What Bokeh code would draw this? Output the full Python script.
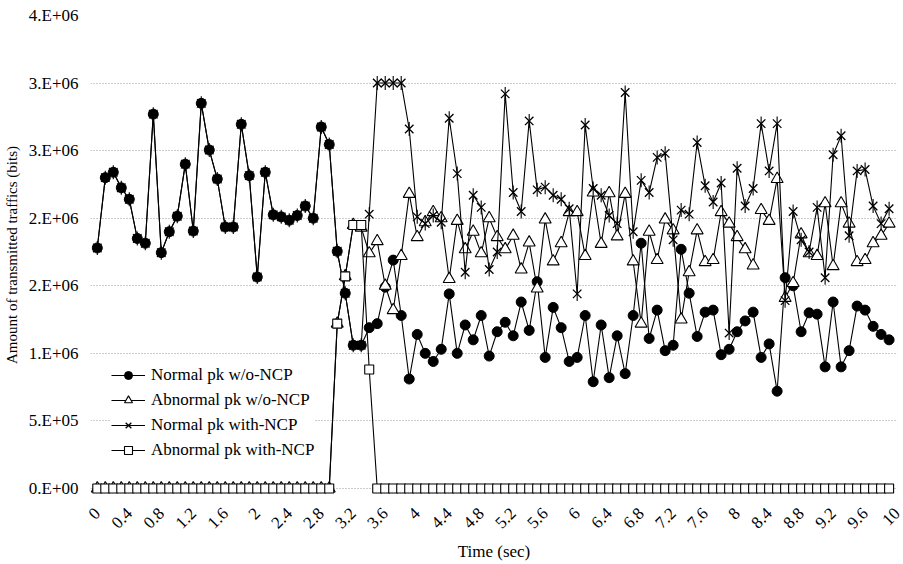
from math import pi
from bokeh.plotting import figure
from bokeh.models import (ColumnDataSource, FixedTicker, Legend, LegendItem, Range1d)
from bokeh.embed import file_html
from bokeh.resources import INLINE

# ---------------- data (values in millions of bits) ----------------
time_sec = [round(i * 0.1, 1) for i in range(100)]

normal_wo_ncp = [
    1.78, 2.30, 2.34, 2.225, 2.14, 1.85, 1.815, 2.77, 1.745, 1.90,
    2.015, 2.40, 1.905, 2.85, 2.505, 2.29, 1.935, 1.935, 2.695, 2.315,
    1.565, 2.34, 2.025, 2.01, 1.985, 2.02, 2.09, 2.00, 2.675, 2.545,
    1.755, 1.445, 1.06, 1.06, 1.19, 1.22, 1.49, 1.69, 1.28, 0.81,
    1.14, 1.00, 0.94, 1.03, 1.44, 1.00, 1.21, 1.10, 1.28, 0.98,
    1.16, 1.23, 1.13, 1.38, 1.17, 1.53, 0.97, 1.34, 1.19, 0.94,
    0.97, 1.28, 0.79, 1.21, 0.82, 1.13, 0.85, 1.28, 1.815, 1.11,
    1.32, 1.02, 1.06, 1.77, 1.445, 1.125, 1.305, 1.32, 0.99, 1.03,
    1.16, 1.24, 1.305, 0.97, 1.07, 0.72, 1.56, 1.50, 1.16, 1.30,
    1.29, 0.90, 1.38, 0.90, 1.02, 1.35, 1.32, 1.20, 1.14, 1.10,
]

abnormal_wo_ncp = [
    0, 0, 0, 0, 0, 0, 0, 0, 0, 0,
    0, 0, 0, 0, 0, 0, 0, 0, 0, 0,
    0, 0, 0, 0, 0, 0, 0, 0, 0, 0,
    1.22, 1.57, 1.95, 1.93, 1.74, 1.83, 1.50, 1.32, 1.72, 2.18,
    1.86, 1.97, 2.045, 2.00, 1.55, 1.98, 1.77, 1.90, 1.74, 2.00,
    1.86, 1.77, 1.87, 1.62, 1.82, 1.48, 1.99, 1.68, 1.815, 2.045,
    2.045, 1.72, 2.19, 1.81, 2.185, 1.865, 2.18, 1.68, 1.22, 1.90,
    1.69, 1.99, 1.91, 1.25, 1.60, 1.91, 1.675, 1.69, 2.045, 1.96,
    1.86, 1.77, 1.65, 2.06, 1.98, 2.29, 1.41, 1.52, 1.88, 1.74,
    1.72, 2.11, 1.645, 2.11, 1.96, 1.675, 1.69, 1.815, 1.87, 1.96,
]

normal_with_ncp = [
    1.78, 2.30, 2.34, 2.225, 2.14, 1.85, 1.815, 2.77, 1.745, 1.90,
    2.015, 2.40, 1.905, 2.85, 2.505, 2.29, 1.935, 1.935, 2.695, 2.315,
    1.565, 2.34, 2.025, 2.01, 1.985, 2.02, 2.09, 2.00, 2.675, 2.545,
    1.755, 1.445, 1.06, 1.06, 2.03, 3.00, 3.00, 3.00, 3.00, 2.66,
    2.01, 1.96, 2.02, 1.97, 2.74, 2.33, 1.60, 2.17, 2.08, 1.62,
    1.75, 2.92, 2.19, 2.05, 2.72, 2.21, 2.23, 2.17, 2.14, 2.07,
    1.44, 2.69, 2.22, 2.17, 2.02, 1.96, 2.93, 1.90, 2.28, 2.19,
    2.45, 2.48, 1.84, 2.06, 2.03, 2.56, 2.24, 2.12, 2.26, 1.15,
    2.37, 2.09, 2.22, 2.70, 2.35, 2.70, 1.39, 2.05, 1.84, 1.75,
    2.08, 1.56, 2.47, 2.61, 1.87, 2.35, 2.36, 2.09, 1.96, 2.07,
]

abnormal_with_ncp = [
    0, 0, 0, 0, 0, 0, 0, 0, 0, 0,
    0, 0, 0, 0, 0, 0, 0, 0, 0, 0,
    0, 0, 0, 0, 0, 0, 0, 0, 0, 0,
    1.22, 1.57, 1.95, 1.95, 0.88, 0, 0, 0, 0, 0,
    0, 0, 0, 0, 0, 0, 0, 0, 0, 0,
    0, 0, 0, 0, 0, 0, 0, 0, 0, 0,
    0, 0, 0, 0, 0, 0, 0, 0, 0, 0,
    0, 0, 0, 0, 0, 0, 0, 0, 0, 0,
    0, 0, 0, 0, 0, 0, 0, 0, 0, 0,
    0, 0, 0, 0, 0, 0, 0, 0, 0, 0,
]

series_names = ["Normal pk w/o-NCP", "Abnormal pk w/o-NCP",
                "Normal pk with-NCP", "Abnormal pk with-NCP"]

x_tick_values = [0, 0.4, 0.8, 1.2, 1.6, 2, 2.4, 2.8, 3.2, 3.6, 4, 4.4, 4.8,
                 5.2, 5.6, 6, 6.4, 6.8, 7.2, 7.6, 8, 8.4, 8.8, 9.2, 9.6, 10]
x_tick_labels = ["0", "0.4", "0.8", "1.2", "1.6", "2", "2.4", "2.8", "3.2",
                 "3.6", "4", "4.4", "4.8", "5.2", "5.6", "6", "6.4", "6.8",
                 "7.2", "7.6", "8", "8.4", "8.8", "9.2", "9.6", "10"]
y_tick_values = [0, 500000, 1000000, 1500000, 2000000, 2500000, 3000000, 3500000]
y_tick_labels = ["0.E+00", "5.E+05", "1.E+06", "2.E+06", "2.E+06",
                 "3.E+06", "3.E+06", "4.E+06"]

FONT = "Liberation Serif"

# ---------------- figure ----------------
p = figure(width=903, height=564, output_backend="svg", toolbar_location=None,
           x_range=Range1d(-0.085, 10.005), y_range=Range1d(-44400, 3500000),
           min_border_left=90, min_border_right=6, min_border_top=15,
           min_border_bottom=70)
p.outline_line_color = None
p.background_fill_color = "white"
p.border_fill_color = "white"

src = ColumnDataSource(dict(
    x=time_sec,
    nwo=[v * 1e6 for v in normal_wo_ncp],
    awo=[v * 1e6 for v in abnormal_wo_ncp],
    nw=[v * 1e6 for v in normal_with_ncp],
    aw=[v * 1e6 for v in abnormal_with_ncp],
))

items = []
l1 = p.line("x", "nwo", source=src, line_color="black", line_width=1.1)
m1 = p.scatter("x", "nwo", source=src, marker="circle", size=10,
               fill_color="black", line_color="black")
items.append(LegendItem(label=series_names[0], renderers=[l1, m1]))

l2 = p.line("x", "awo", source=src, line_color="black", line_width=1.1)
m2 = p.scatter("x", "awo", source=src, marker="triangle", size=12,
               fill_color="white", line_color="black", line_width=1.1)
items.append(LegendItem(label=series_names[1], renderers=[l2, m2]))

l3 = p.line("x", "nw", source=src, line_color="black", line_width=1.1)
m3a = p.scatter("x", "nw", source=src, marker="x", size=12,
                line_color="black", line_width=1.3)
m3b = p.scatter("x", "nw", source=src, marker="dash", size=14, angle=pi / 2,
                line_color="black", line_width=1.1)
items.append(LegendItem(label=series_names[2], renderers=[l3, m3a, m3b]))

l4 = p.line("x", "aw", source=src, line_color="black", line_width=1.1)
m4 = p.scatter("x", "aw", source=src, marker="square", size=9,
               fill_color="white", line_color="black", line_width=1.1)
items.append(LegendItem(label=series_names[3], renderers=[l4, m4]))

# ---------------- axes ----------------
p.xaxis.ticker = FixedTicker(ticks=x_tick_values)
p.xaxis.major_label_overrides = {v: s for v, s in zip(x_tick_values, x_tick_labels)}
p.xaxis.major_label_orientation = pi / 4
p.xaxis.axis_label = "Time (sec)"
p.xaxis.axis_label_standoff = 6

p.yaxis.ticker = FixedTicker(ticks=y_tick_values)
p.yaxis.major_label_overrides = {v: s for v, s in zip(y_tick_values, y_tick_labels)}
p.yaxis.axis_label = "Amount of transmitted traffics (bits)"
p.yaxis.axis_label_standoff = 6

for ax in (p.xaxis[0], p.yaxis[0]):
    ax.axis_line_color = None
    ax.major_tick_line_color = None
    ax.minor_tick_line_color = None
    ax.major_tick_out = 0
    ax.major_tick_in = 0
    ax.major_label_text_font = FONT
    ax.major_label_text_font_size = "17px"
    ax.major_label_text_color = "black"
    ax.axis_label_text_font = FONT
    ax.axis_label_text_font_size = "15px"
    ax.axis_label_text_font_style = "normal"
    ax.axis_label_text_color = "black"
p.xaxis.axis_label_text_font_size = "17px"
p.xaxis.major_label_standoff = 16
p.yaxis.major_label_standoff = 12

p.xgrid.grid_line_color = None
p.ygrid.grid_line_color = "#9a9a9a"
p.ygrid.grid_line_dash = "1 2"
p.ygrid.grid_line_width = 1

legend = Legend(items=items, location=(21, 34), orientation="vertical",
                label_text_font=FONT, label_text_font_size="17px",
                label_text_color="black", glyph_width=34, glyph_height=20,
                label_height=20, spacing=5, label_standoff=6, padding=6,
                margin=0, border_line_color=None, background_fill_color="white",
                background_fill_alpha=1.0)
p.add_layout(legend, "center")

open("out.html", "w").write(file_html(p, INLINE))
